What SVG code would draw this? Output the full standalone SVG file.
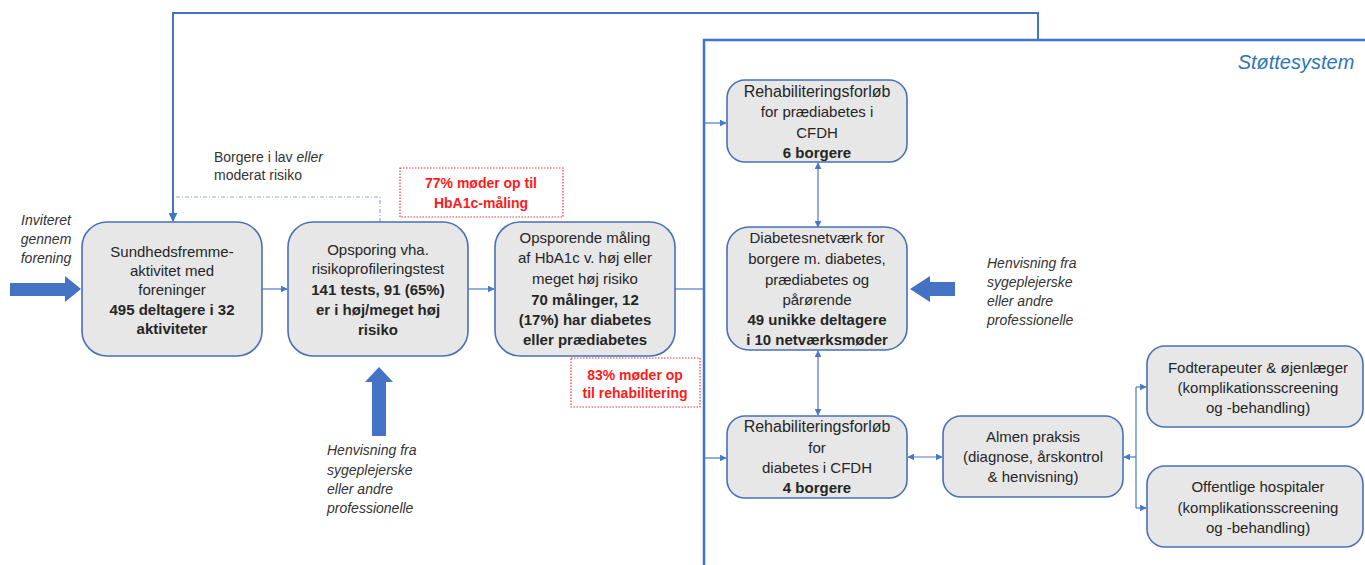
<svg xmlns="http://www.w3.org/2000/svg" width="1365" height="565" viewBox="0 0 1365 565">
<style>
.box{fill:#e7e7e7;stroke:#4a70b5;stroke-width:1.6}
.t{font-family:"Liberation Sans",Arial,sans-serif;font-size:15px;fill:#262626;text-anchor:middle}
.b{font-weight:bold}
.it{font-family:"Liberation Sans",Arial,sans-serif;font-size:14px;font-style:italic;fill:#333}
.red{font-family:"Liberation Sans",Arial,sans-serif;font-size:14px;font-weight:bold;fill:#ff1a1a;text-anchor:middle}
.sm{font-family:"Liberation Sans",Arial,sans-serif;font-size:14px;fill:#333}
.c{fill:none;stroke:#4a78c8;stroke-width:1.2}
.fat{fill:#4472c4}
.rbox{fill:none;stroke:#ff3333;stroke-width:1.2;stroke-dasharray:1.5 1.5}
</style>
<defs>
<marker id="ah" viewBox="0 0 10 10" refX="9" refY="5" markerWidth="7" markerHeight="7" orient="auto-start-reverse" markerUnits="userSpaceOnUse">
<path d="M0,0 L10,5 L0,10 z" fill="#4a78c8"/>
</marker>
<marker id="ah2" viewBox="0 0 10 10" refX="9" refY="5" markerWidth="9" markerHeight="9" orient="auto" markerUnits="userSpaceOnUse">
<path d="M0,0 L10,5 L0,10 z" fill="#4472c4"/>
</marker>
</defs>

<rect width="1365" height="565" fill="#ffffff"/>

<g id="stottesystem">
<path d="M704,565 V40 H1365" fill="none" stroke="#4472c4" stroke-width="2.5"/>
<text x="1296" y="69" font-family="Liberation Sans,Arial,sans-serif" font-size="20" font-style="italic" fill="#2e75b6" text-anchor="middle">Støttesystem</text>
</g>

<g id="connectors">
<path d="M1038,39 V13 H173 V221" fill="none" stroke="#4472c4" stroke-width="2" marker-end="url(#ah2)"/>
<path d="M380,222 V197 H175" fill="none" stroke="#8faadc" stroke-width="1.2" stroke-dasharray="4 2 1 2"/>
<path class="c" d="M262,289 H287" marker-end="url(#ah)"/>
<path class="c" d="M468,289 H494" marker-end="url(#ah)"/>
<path class="c" d="M675,289 H703"/>
<path class="c" d="M704,123 H726" marker-end="url(#ah)"/>
<path class="c" d="M704,458 H726" marker-end="url(#ah)"/>
<path class="c" d="M818,163 V227" marker-start="url(#ah)" marker-end="url(#ah)"/>
<path class="c" d="M818,351 V415" marker-start="url(#ah)" marker-end="url(#ah)"/>
<path class="c" d="M908,457 H942" marker-start="url(#ah)" marker-end="url(#ah)"/>
<path class="c" d="M1136,457 H1124" marker-end="url(#ah)"/>
<path class="c" d="M1136,387 V508"/>
<path class="c" d="M1136,387 H1146" marker-end="url(#ah)"/>
<path class="c" d="M1136,508 H1146" marker-end="url(#ah)"/>
<polygon class="fat" points="10,283 65,283 65,276 81,289 65,302 65,296 10,296"/>
<polygon class="fat" points="372,436 372,382 365,382 379,367 393,382 386,382 386,436"/>
<polygon class="fat" points="955,282 930,282 930,276 910,289 930,302 930,296 955,296"/>
</g>

<g id="inviteret">
<text class="it" text-anchor="middle"><tspan x="46" y="225">Inviteret</tspan><tspan x="46" y="244">gennem</tspan><tspan x="46" y="263">forening</tspan></text>
</g>

<g id="henvisning1">
<text class="it" font-size="13.5"><tspan x="327" y="455">Henvisning fra</tspan><tspan x="327" y="475">sygeplejerske</tspan><tspan x="327" y="494">eller andre</tspan><tspan x="327" y="513">professionelle</tspan></text>
</g>

<g id="henvisning2">
<text class="it" font-size="13.5"><tspan x="987" y="268">Henvisning fra</tspan><tspan x="987" y="287">sygeplejerske</tspan><tspan x="987" y="306">eller andre</tspan><tspan x="987" y="325">professionelle</tspan></text>
</g>

<g id="borgere">
<text class="sm"><tspan x="214" y="162">Borgere i lav <tspan font-style="italic">eller</tspan></tspan><tspan x="214" y="180">moderat risiko</tspan></text>
</g>

<g id="pct77">
<rect class="rbox" x="400" y="168" width="163" height="49"/>
<text class="red"><tspan x="481" y="188">77% møder op til</tspan><tspan x="481" y="208">HbA1c-måling</tspan></text>
</g>

<g id="pct83">
<rect class="rbox" x="571" y="358" width="129" height="49"/>
<text class="red"><tspan x="635" y="380">83% møder op</tspan><tspan x="635" y="398">til rehabilitering</tspan></text>
</g>

<g id="box1">
<rect class="box" x="82" y="222" width="180" height="134" rx="25"/>
<text class="t"><tspan x="172" y="257">Sundhedsfremme-</tspan><tspan x="172" y="276">aktivitet med</tspan><tspan x="172" y="295">foreninger</tspan><tspan class="b" x="172" y="315">495 deltagere i 32</tspan><tspan class="b" x="172" y="334">aktiviteter</tspan></text>
</g>

<g id="box2">
<rect class="box" x="288" y="222" width="180" height="134" rx="25"/>
<text class="t"><tspan x="378" y="255">Opsporing vha.</tspan><tspan x="378" y="274">risikoprofileringstest</tspan><tspan class="b" x="378" y="295">141 tests, 91 (65%)</tspan><tspan class="b" x="378" y="315">er i høj/meget høj</tspan><tspan class="b" x="378" y="335">risiko</tspan></text>
</g>

<g id="box3">
<rect class="box" x="495" y="222" width="180" height="134" rx="25"/>
<text class="t"><tspan x="585" y="243">Opsporende måling</tspan><tspan x="585" y="263">af HbA1c v. høj eller</tspan><tspan x="585" y="284">meget høj risiko</tspan><tspan class="b" x="585" y="305">70 målinger, 12</tspan><tspan class="b" x="585" y="325">(17%) har diabetes</tspan><tspan class="b" x="585" y="345">eller prædiabetes</tspan></text>
</g>

<g id="rehab-pre">
<rect class="box" x="727" y="80" width="180" height="82" rx="18"/>
<text class="t"><tspan x="817" y="97" font-size="16">Rehabiliteringsforløb</tspan><tspan x="817" y="117">for prædiabetes i</tspan><tspan x="817" y="138">CFDH</tspan><tspan class="b" x="817" y="158">6 borgere</tspan></text>
</g>

<g id="netvaerk">
<rect class="box" x="727" y="227" width="180" height="123" rx="22"/>
<text class="t"><tspan x="817" y="243">Diabetesnetværk for</tspan><tspan x="817" y="264">borgere m. diabetes,</tspan><tspan x="817" y="285">prædiabetes og</tspan><tspan x="817" y="305">pårørende</tspan><tspan class="b" x="817" y="325">49 unikke deltagere</tspan><tspan class="b" x="817" y="345">i 10 netværksmøder</tspan></text>
</g>

<g id="rehab-dia">
<rect class="box" x="727" y="416" width="180" height="82" rx="18"/>
<text class="t"><tspan x="817" y="432" font-size="16">Rehabiliteringsforløb</tspan><tspan x="817" y="453">for</tspan><tspan x="817" y="473">diabetes i CFDH</tspan><tspan class="b" x="817" y="493">4 borgere</tspan></text>
</g>

<g id="almen">
<rect class="box" x="943" y="416" width="180" height="81" rx="18"/>
<text class="t"><tspan x="1033" y="442">Almen praksis</tspan><tspan x="1033" y="462">(diagnose, årskontrol</tspan><tspan x="1033" y="482">&amp; henvisning)</tspan></text>
</g>

<g id="fodterapeuter">
<rect class="box" x="1147" y="346" width="216" height="81" rx="18"/>
<text class="t"><tspan x="1258" y="373">Fodterapeuter &amp; øjenlæger</tspan><tspan x="1258" y="393">(komplikationsscreening</tspan><tspan x="1258" y="413">og -behandling)</tspan></text>
</g>

<g id="hospitaler">
<rect class="box" x="1147" y="466" width="216" height="81" rx="18"/>
<text class="t"><tspan x="1258" y="492">Offentlige hospitaler</tspan><tspan x="1258" y="513">(komplikationsscreening</tspan><tspan x="1258" y="533">og -behandling)</tspan></text>
</g>
</svg>
